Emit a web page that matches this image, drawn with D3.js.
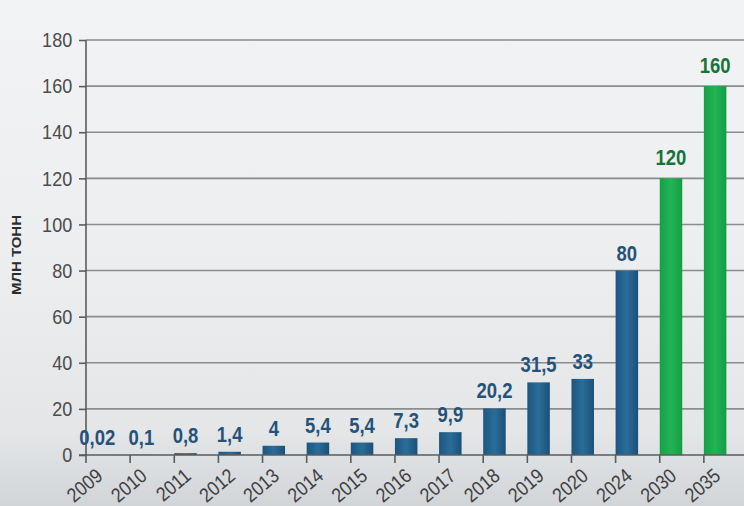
<!DOCTYPE html>
<html><head><meta charset="utf-8">
<script src="https://cdn.jsdelivr.net/npm/d3@7"></script>
<style>html,body{margin:0;padding:0;overflow:hidden;background:#eef0f1}</style>
</head><body>
<svg id="c" width="744" height="506"></svg>
<script>
const years = ["2009","2010","2011","2012","2013","2014","2015","2016","2017","2018","2019","2020","2024","2030","2035"];
const values = [0.02,0.1,0.8,1.4,4,5.4,5.4,7.3,9.9,20.2,31.5,33,80,120,160];
const valueLabels = ["0,02","0,1","0,8","1,4","4","5,4","5,4","7,3","9,9","20,2","31,5","33","80","120","160"];
const forecast = [false,false,false,false,false,false,false,false,false,false,false,false,false,true,true];
const yTicks = [0,20,40,60,80,100,120,140,160,180];
const yTitle = "МЛН ТОНН";

const svg = d3.select("#c");
const W = 744, H = 506;
const FONT = "'Liberation Sans',Arial,sans-serif";

const defs = svg.append("defs");
const bg = defs.append("linearGradient").attr("id","bg").attr("x1",0).attr("y1",0).attr("x2",0).attr("y2",1);
bg.append("stop").attr("offset","0").attr("stop-color","#f2f3f4");
bg.append("stop").attr("offset","0.5").attr("stop-color","#eceef0");
bg.append("stop").attr("offset","0.85").attr("stop-color","#e4e6e8");
bg.append("stop").attr("offset","1").attr("stop-color","#d2d5d8");
const gb = defs.append("linearGradient").attr("id","gb").attr("x1",0).attr("x2",1);
gb.append("stop").attr("offset","0").attr("stop-color","#1c5680");
gb.append("stop").attr("offset","0.5").attr("stop-color","#2a6d99");
gb.append("stop").attr("offset","1").attr("stop-color","#1b5078");
const gg = defs.append("linearGradient").attr("id","gg").attr("x1",0).attr("x2",1);
gg.append("stop").attr("offset","0").attr("stop-color","#16a046");
gg.append("stop").attr("offset","0.5").attr("stop-color","#22b455");
gg.append("stop").attr("offset","1").attr("stop-color","#169c44");

svg.append("rect").attr("width",W).attr("height",H).attr("fill","url(#bg)");

const x0 = 86, x1 = 748, y0 = 455, y1 = 40;
const x = d3.scaleBand().domain(years).range([x0, x1]).paddingInner(0).paddingOuter(0);
const y = d3.scaleLinear().domain([0,180]).range([y0, y1]);
const bw = x.bandwidth() * 0.51;

// gridlines
svg.append("g").selectAll("line").data(yTicks.filter(d=>d>0)).join("line")
  .attr("x1", x0).attr("x2", W).attr("y1", d=>y(d)).attr("y2", d=>y(d))
  .attr("stroke","#8a8c8e").attr("stroke-width",1.6);

// y axis
const ya = svg.append("g").attr("transform",`translate(${x0},0)`)
  .call(d3.axisLeft(y).tickValues(yTicks).tickSize(7).tickPadding(9).tickFormat(d3.format("d")));
ya.select(".domain").attr("stroke","#5a5c5e").attr("stroke-width",1.6).attr("d",`M0,${y0}V${y1}`);
ya.selectAll(".tick line").attr("stroke","#5a5c5e").attr("stroke-width",1.6);
ya.selectAll(".tick text").attr("fill","#4a4c4e").style("font-family",FONT).style("font-size","21px")
  .attr("transform","scale(0.86,1)");

// bars
svg.append("g").selectAll("rect").data(values).join("rect")
  .attr("x",(d,i)=>x(years[i])).attr("width",bw)
  .attr("y",d=>y(d)).attr("height",d=>y0-y(d))
  .attr("fill",(d,i)=>forecast[i]?"url(#gg)":"url(#gb)");

// x axis
const xa = svg.append("g").attr("transform",`translate(0,${y0})`)
  .call(d3.axisBottom(x).tickSize(8).tickSizeOuter(0));
xa.select(".domain").attr("stroke","#5a5c5e").attr("stroke-width",1.6).attr("d",`M${x0-7},0H${W}`);
xa.selectAll(".tick").attr("transform",d=>`translate(${x(d)},0)`);
xa.selectAll(".tick line").attr("stroke","#5a5c5e").attr("stroke-width",1.6);
xa.selectAll(".tick text")
  .attr("y",0).attr("dy",0)
  .attr("transform","translate(18,23) rotate(-40) scale(0.88,1)")
  .attr("text-anchor","end")
  .attr("fill","#3e4042").style("font-family",FONT).style("font-size","20px");

// value labels
svg.append("g").selectAll("text").data(values).join("text")
  .attr("transform",(d,i)=>`translate(${x(years[i])+bw/2},${y(d)-(forecast[i]?13:10)}) scale(0.84,1)`)
  .attr("text-anchor","middle")
  .attr("fill",(d,i)=>forecast[i]?"#17733a":"#24527a")
  .style("font-family",FONT).style("font-weight","bold").style("font-size","22px")
  .text((d,i)=>valueLabels[i]);

// y title
svg.append("text").attr("transform","translate(21,255) rotate(-90)")
  .attr("text-anchor","middle").attr("fill","#2a2c2e")
  .attr("textLength",80).attr("lengthAdjust","spacingAndGlyphs")
  .style("font-family",FONT).style("font-weight","bold").style("font-size","12.5px")
  .text(yTitle);
</script>
</body></html>
